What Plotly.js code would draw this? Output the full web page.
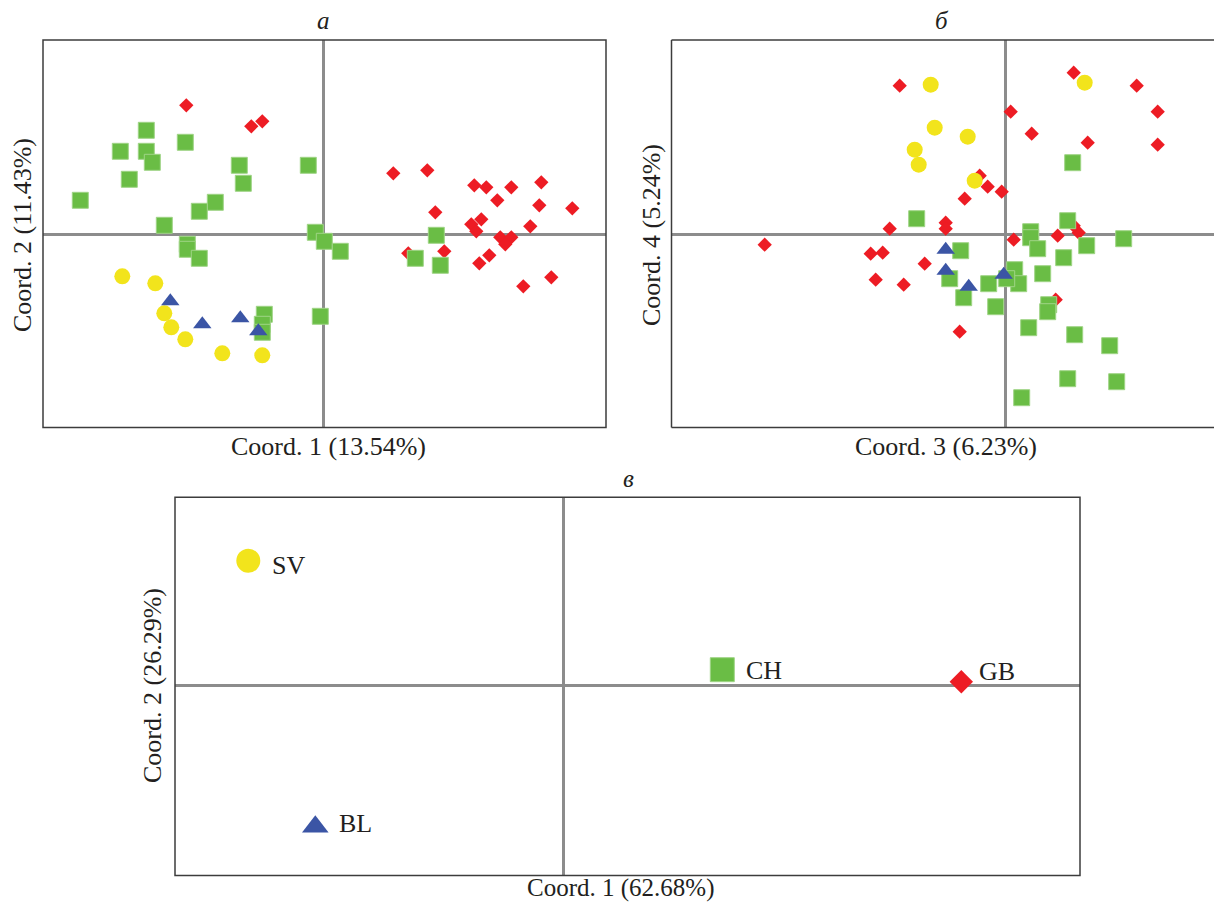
<!DOCTYPE html>
<html>
<head>
<meta charset="utf-8">
<script src="https://cdn.plot.ly/plotly-3.0.1.min.js"></script>
<style>html,body{margin:0;padding:0;background:#fff;}#chart{width:1214px;height:904px;}</style>
</head>
<body>
<div id="chart"></div>
<script>
// ---- Panel а: Coord. 1 vs Coord. 2 (individuals) ----
const a_GB_x = [-1.37,-0.72,-0.61,0.70,1.04,1.51,1.63,1.88,2.18,1.74,2.16,2.49,1.12,1.58,1.48,1.53,2.07,1.77,1.88,1.82,0.85,1.21,1.66,1.56,2.28,2.00];
const a_GB_y = [1.29,1.08,1.13,0.61,0.64,0.49,0.47,0.47,0.52,0.34,0.29,0.26,0.22,0.15,0.10,0.03,0.08,-0.03,-0.03,-0.10,-0.19,-0.17,-0.21,-0.29,-0.43,-0.52];
const a_CH_x = [-1.77,-2.03,-1.77,-1.71,-1.38,-0.84,-1.94,-2.43,-0.80,-1.08,-1.24,-1.59,-0.15,-0.08,0.01,0.17,-1.36,-1.36,-1.24,-0.59,-0.61,-0.61,-0.03,1.13,0.92,1.17];
const a_CH_y = [1.04,0.83,0.83,0.72,0.92,0.69,0.55,0.34,0.51,0.32,0.23,0.09,0.69,0.02,-0.07,-0.17,-0.10,-0.15,-0.24,-0.80,-0.90,-0.98,-0.82,-0.01,-0.24,-0.31];
const a_SV_x = [-2.01,-1.68,-1.59,-1.52,-1.38,-1.01,-0.61];
const a_SV_y = [-0.42,-0.49,-0.79,-0.93,-1.05,-1.19,-1.21];
const a_BL_x = [-1.53,-1.21,-0.83,-0.65];
const a_BL_y = [-0.67,-0.90,-0.84,-0.97];

// ---- Panel б: Coord. 3 vs Coord. 4 (individuals) ----
const b_GB_x = [-1.06,-1.16,-2.41,-1.35,-1.23,-0.81,-1.30,-1.02,0.68,1.31,1.52,1.52,0.05,0.26,0.82,-0.26,-0.18,-0.04,-0.41,-0.60,-0.60,0.08,0.52,0.73,0.68,0.50,-0.46];
const b_GB_y = [1.49,0.06,-0.10,-0.19,-0.18,-0.29,-0.45,-0.50,1.62,1.49,1.23,0.90,1.23,1.01,0.92,0.59,0.48,0.43,0.36,0.12,0.06,-0.05,-0.01,0.02,0.09,-0.65,-0.97];
const b_CH_x = [-0.89,0.67,0.62,0.25,0.25,0.32,0.81,1.18,-0.45,0.58,0.37,0.09,0.13,0.01,-0.17,-0.56,-0.42,-0.10,0.43,0.42,0.23,0.69,1.04,0.62,1.11,0.16];
const b_CH_y = [0.16,0.72,0.14,0.03,-0.03,-0.14,-0.11,-0.04,-0.16,-0.23,-0.39,-0.35,-0.49,-0.44,-0.49,-0.44,-0.63,-0.72,-0.70,-0.77,-0.93,-1.00,-1.11,-1.44,-1.47,-1.63];
const b_SV_x = [-0.75,-0.71,-0.91,-0.87,0.79,-0.38,-0.31];
const b_SV_y = [1.50,1.07,0.85,0.70,1.52,0.98,0.54];
const b_BL_x = [-0.60,-0.60,-0.37,-0.02];
const b_BL_y = [-0.15,-0.36,-0.52,-0.40];

// ---- Panel в: populations ----
const v_names = ["SV","CH","GB","BL"];
const v_x = [-3.15,1.59,3.98,-2.48];
const v_y = [1.25,0.16,0.04,-1.41];

// ---- Text ----
const panelTitles = ["а","б","в"];
const axisTitles = {
  a_x:"Coord. 1 (13.54%)", a_y:"Coord. 2 (11.43%)",
  b_x:"Coord. 3 (6.23%)",  b_y:"Coord. 4 (5.24%)",
  v_x:"Coord. 1 (62.68%)", v_y:"Coord. 2 (26.29%)"
};

const COL = {GB:"#ed1c24", CH:"#6abd45", SV:"#f2e41c", BL:"#3b55a5"};
const SYM = {GB:"diamond", CH:"square", SV:"circle", BL:"triangle-up"};
const SZ  = {GB:11, CH:16, SV:16, BL:16};
const SZV = {GB:18, CH:24, SV:24, BL:23};

function tr(x,y,g,xa,ya,sz){
  return {x:x,y:y,xaxis:xa,yaxis:ya,type:"scatter",mode:"markers",name:g,showlegend:false,hoverinfo:"skip",
    marker:{symbol:SYM[g],color:COL[g],size:sz[g],
      line:{color: g==="CH" ? "#9fd486" : "rgba(0,0,0,0)", width: g==="CH"?1:0}}};
}
const data = [
  tr(a_GB_x,a_GB_y,"GB","x","y",SZ), tr(a_CH_x,a_CH_y,"CH","x","y",SZ),
  tr(a_SV_x,a_SV_y,"SV","x","y",SZ), tr(a_BL_x,a_BL_y,"BL","x","y",SZ),
  tr(b_GB_x,b_GB_y,"GB","x2","y2",SZ), tr(b_CH_x,b_CH_y,"CH","x2","y2",SZ),
  tr(b_SV_x,b_SV_y,"SV","x2","y2",SZ), tr(b_BL_x,b_BL_y,"BL","x2","y2",SZ)
];
v_names.forEach((n,i)=>{ data.push(tr([v_x[i]],[v_y[i]],n,"x3","y3",SZV)); });

const FONT = "Liberation Serif, Times New Roman, serif";
const TXT = "#231f20";
function ax(domain, range){
  return {domain:domain, range:range, showgrid:false, showticklabels:false, ticks:"", showline:false,
    zeroline:true, zerolinecolor:"#8c8c8c", zerolinewidth:2.5, fixedrange:true};
}
const H = 904, W = 1214;
const yTop = [(H-427.5)/H, (H-40)/H];
function lab(text,x,y,angle,size,italic){
  const f = {family:FONT,size:size,color:TXT};
  if(italic) f.style = "italic";
  return {text:text,xref:"paper",yref:"paper",x:x/W,y:1-y/H,showarrow:false,textangle:angle,
    xanchor:"center",yanchor:"middle",font:f};
}
const layout = {
  width:W, height:H, margin:{l:0,r:0,t:0,b:0}, paper_bgcolor:"#fff", plot_bgcolor:"#fff",
  font:{family:FONT,color:TXT},
  xaxis: ax([43/W,606/W],[-2.803,2.827]),
  yaxis: ax(yTop,[-1.932,1.943]),
  xaxis2: ax([671.5/W,1],[-3.342,2.083]),
  yaxis2: ax(yTop,[-1.928,1.947]),
  xaxis3: ax([175/W,1080/W],[-3.883,5.167]),
  yaxis3: ax([(H-875.5)/H,(H-497.3)/H],[-1.898,1.884]),
  shapes:[
    {type:"rect",xref:"x domain",yref:"y domain",x0:0,x1:1,y0:0,y1:1,line:{color:"#3c3c3c",width:1.5},layer:"above"},
    {type:"rect",xref:"x3 domain",yref:"y3 domain",x0:0,x1:1,y0:0,y1:1,line:{color:"#3c3c3c",width:1.5},layer:"above"},
    {type:"line",xref:"x2 domain",yref:"y2 domain",x0:0,x1:0,y0:0,y1:1,line:{color:"#3c3c3c",width:1.5}},
    {type:"line",xref:"x2 domain",yref:"y2 domain",x0:0,x1:1,y0:0,y1:0,line:{color:"#3c3c3c",width:1.5}},
    {type:"line",xref:"x2 domain",yref:"y2 domain",x0:0,x1:1,y0:1,y1:1,line:{color:"#3c3c3c",width:1.5}}
  ],
  annotations:[
    lab(panelTitles[0],323,20,0,25,true),
    lab(panelTitles[1],942,20,0,25,true),
    lab(panelTitles[2],628,478,0,25,true),
    lab(axisTitles.a_x,329,446,0,26,false),
    lab(axisTitles.a_y,22,235,-90,26,false),
    lab(axisTitles.b_x,946,446,0,26,false),
    lab(axisTitles.b_y,651,235,-90,26,false),
    lab(axisTitles.v_x,620,888,0,25,false),
    lab(axisTitles.v_y,152,686,-90,26,false)
  ].concat(v_names.map((n,i)=>({
    text:n, xref:"x3", yref:"y3", x:v_x[i], y:v_y[i], showarrow:false, xanchor:"left", yanchor:"middle",
    xshift: n==="GB"?16:22, yshift: n==="GB"?10:(n==="SV"?-5:(n==="BL"?3:-1)),
    font:{family:FONT,size:26,color:TXT}
  })))
};
Plotly.newPlot("chart", data, layout, {staticPlot:true, displayModeBar:false});
</script>
</body>
</html>
